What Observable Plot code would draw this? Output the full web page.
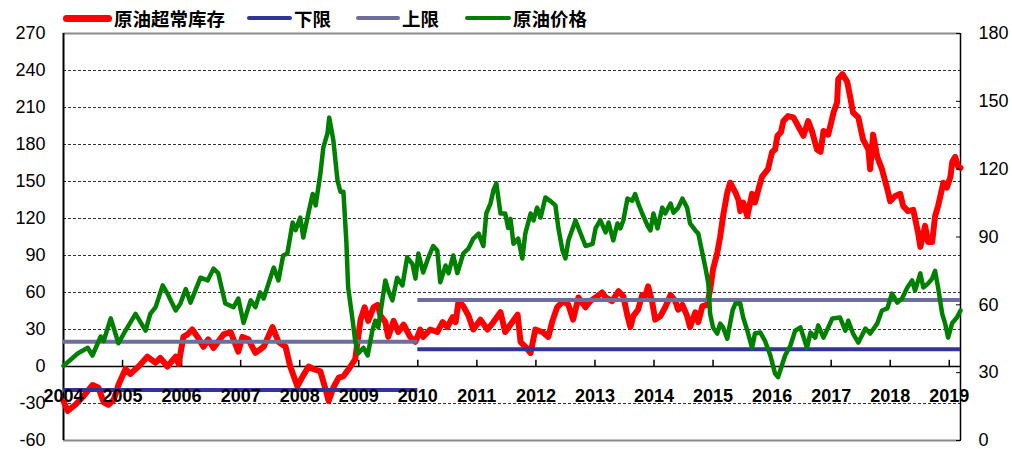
<!DOCTYPE html>
<html><head><meta charset="utf-8">
<script src="https://cdn.jsdelivr.net/npm/d3@7"></script>
<script src="https://cdn.jsdelivr.net/npm/@observablehq/plot@0.6"></script>
<style>
body{margin:0;background:#fff;}
#wrap{position:relative;width:1012px;height:449px;overflow:hidden;}
#legend{position:absolute;left:0;top:0;width:1012px;height:30px;font-family:"Noto Sans CJK SC",sans-serif;font-weight:700;font-size:18.5px;color:#000;z-index:2;}
.item{position:absolute;top:6px;height:24px;display:flex;align-items:center;white-space:nowrap;}
.sw{display:inline-block;border-radius:4px;margin-right:2px;}
</style>
</head><body>
<div id="wrap"><div id="legend"></div><div id="chart"></div></div>
<script>
// ---- data ----
const legendNames = ["原油超常库存", "下限", "上限", "原油价格"];
const yearTicks = [2004,2005,2006,2007,2008,2009,2010,2011,2012,2013,2014,2015,2016,2017,2018,2019];
const leftTicks = [-60,-30,0,30,60,90,120,150,180,210,240,270];
const rightTicks = [0,30,60,90,120,150,180];
const xEnd = 2019.19;

// 原油超常库存 (left axis)
const stockDates = [
 2004.00,2004.07,2004.20,2004.34,2004.49,2004.59,2004.68,2004.76,2004.85,2004.93,
 2005.05,2005.13,2005.27,2005.42,2005.56,2005.64,2005.76,2005.90,2005.95,
 2006.03,2006.10,2006.18,2006.27,2006.37,2006.45,2006.54,2006.71,2006.83,2006.96,
 2007.03,2007.13,2007.25,2007.39,2007.54,2007.64,2007.76,2007.84,2007.96,
 2008.05,2008.15,2008.23,2008.35,2008.44,2008.49,2008.57,2008.66,2008.74,2008.86,2008.94,
 2009.03,2009.10,2009.16,2009.25,2009.32,2009.37,2009.45,2009.50,2009.59,2009.67,2009.76,2009.87,2009.96,
 2010.04,2010.09,2010.21,2010.33,2010.42,2010.50,2010.59,2010.64,2010.69,2010.77,2010.86,2010.94,
 2011.06,2011.18,2011.28,2011.40,2011.48,2011.57,2011.69,2011.74,2011.82,2011.91,2011.99,
 2012.11,2012.21,2012.28,2012.36,2012.46,2012.55,2012.63,2012.72,2012.84,2012.92,
 2013.04,2013.12,2013.18,2013.29,2013.40,2013.48,2013.55,2013.60,2013.65,2013.73,2013.80,2013.85,2013.90,2013.97,
 2014.02,2014.11,2014.19,2014.28,2014.36,2014.41,2014.48,2014.56,2014.61,2014.70,2014.75,2014.82,2014.90,2014.95,
 2015.00,2015.07,2015.12,2015.17,2015.24,2015.29,2015.38,2015.43,2015.46,2015.51,2015.58,2015.66,2015.71,2015.77,2015.83,2015.88,2015.93,
 2016.00,2016.05,2016.09,2016.15,2016.19,2016.27,2016.36,2016.44,2016.53,2016.61,2016.68,2016.76,2016.82,2016.87,2016.95,
 2017.04,2017.10,2017.12,2017.19,2017.27,2017.32,2017.37,2017.46,2017.54,2017.63,2017.66,2017.71,2017.78,2017.86,2017.95,
 2018.00,2018.08,2018.17,2018.22,2018.30,2018.39,2018.47,2018.51,2018.59,2018.64,2018.71,2018.76,2018.81,2018.90,2018.96,
 2019.02,2019.05,2019.10,2019.15,2019.19
];
const stockValues = [
 -28,-36,-31,-24,-15,-17,-29,-31,-27,-15,
 -2,-6,0,8,3,7,0,8,2,
 24,26,30,24,16,22,15,26,28,12,
 24,22,11,16,32,20,16,0,-16,
 -8,0,-2,-4,-19,-28,-17,-9,-8,0,6,
 38,48,37,48,50,41,36,24,37,28,34,24,20,
 30,24,30,28,36,32,40,36,53,49,41,30,
 38,30,36,44,28,34,42,20,16,11,30,
 28,24,37,48,53,50,38,56,48,53,
 57,60,56,53,61,57,41,32,41,46,58,57,65,52,
 38,41,48,58,53,46,50,41,32,44,36,49,50,62,
 79,92,105,122,141,149,141,135,126,133,122,140,133,144,154,157,160,
 174,176,187,190,199,203,202,195,187,199,190,176,174,191,188,
 206,214,233,237,231,219,206,202,184,176,160,188,170,160,144,
 134,138,140,130,126,127,109,97,114,101,101,122,130,149,145,
 154,166,170,162,161
];

// 原油价格 (right axis)
const priceDates = [
 2004.00,2004.24,2004.41,2004.49,2004.63,2004.68,2004.80,2004.93,
 2005.05,2005.22,2005.39,2005.47,2005.56,2005.68,2005.76,2005.90,2005.98,
 2006.07,2006.15,2006.32,2006.44,2006.54,2006.62,2006.74,2006.88,2006.96,
 2007.05,2007.17,2007.25,2007.33,2007.39,2007.56,2007.64,2007.72,2007.79,2007.88,2007.93,
 2008.01,2008.06,2008.15,2008.22,2008.27,2008.35,2008.40,2008.47,2008.50,2008.57,2008.64,2008.69,2008.74,2008.79,2008.82,2008.89,2008.94,2008.99,
 2009.08,2009.15,2009.23,2009.28,2009.33,2009.45,2009.50,2009.57,2009.65,2009.74,2009.82,2009.91,2009.96,
 2010.01,2010.09,2010.18,2010.26,2010.33,2010.38,2010.47,2010.52,2010.60,2010.67,2010.77,2010.86,2010.94,
 2011.03,2011.11,2011.16,2011.23,2011.28,2011.33,2011.40,2011.48,2011.53,2011.57,2011.62,2011.70,2011.77,2011.82,2011.91,2011.96,
 2012.02,2012.08,2012.16,2012.24,2012.33,2012.38,2012.45,2012.50,2012.55,2012.67,2012.75,2012.84,2012.96,
 2013.01,2013.09,2013.18,2013.23,2013.31,2013.38,2013.43,2013.48,2013.55,2013.63,2013.68,2013.73,2013.80,2013.89,2013.94,2013.99,
 2014.06,2014.14,2014.19,2014.28,2014.33,2014.41,2014.48,2014.56,2014.61,2014.70,2014.75,2014.82,2014.87,2014.92,2014.95,
 2015.00,2015.07,2015.12,2015.17,2015.24,2015.33,2015.38,2015.46,2015.51,2015.58,2015.66,2015.71,2015.80,2015.88,2015.97,
 2016.05,2016.10,2016.22,2016.31,2016.39,2016.48,2016.59,2016.65,2016.73,2016.78,2016.87,
 2017.02,2017.15,2017.24,2017.29,2017.37,2017.46,2017.58,2017.66,2017.78,2017.86,2017.95,
 2018.03,2018.12,2018.20,2018.29,2018.37,2018.42,2018.51,2018.56,2018.64,2018.71,2018.76,2018.81,2018.88,2018.93,2018.98,
 2019.05,2019.13,2019.19
];
const priceValues = [
 33,38.5,41,37.6,46,44,54,43,
 48.6,56,48.6,56,59,68.6,65,57.5,60.6,
 67,61,72,70.8,76,74,60.6,59,62.8,
 52,62,59,65.5,62.8,76.5,70.8,81.8,82.7,96.4,93,
 98.6,89.8,100.8,109,104,118,129.6,135.8,142.8,132.7,115,110,110,88,67.7,54.4,44,38.5,
 41,37.6,48.6,53,50,70.8,66.3,62,72,68.6,81,78,71.6,
 82.7,74.3,81,86,84,70,77.4,74,81.8,74,82.7,85,89.3,
 91.5,86,100.4,104.8,110.6,113.7,100.4,100.4,94,98,87,89.3,80.5,91.5,100.4,97.3,
 103,98.6,107.5,106,104,94,84,80.5,88.5,97.3,92,86,87,
 93.8,97.5,92,96.4,88.5,96,93.8,97.3,107,106,109,105,100.4,95,92.9,100.4,
 93.8,103,100.4,104.8,100.8,103,107,103,96,92.9,91.5,82.7,76.5,69.4,56,
 50,47.3,51.7,50,45,57.5,60.6,60.6,54.4,48.6,41,47.3,47.8,44,37.6,
 29.6,28,37.6,42,48.6,50,41,47.8,45.5,50.9,45.5,
 54,54.4,48.6,53,47.3,43.3,49.5,47.3,51.7,57.5,58.4,
 65,61,62.8,67.7,70.8,66.3,73.9,67.7,69.4,71.6,75,67.7,56,51.7,45.5,
 52,54.4,57.5
];

// 下限 / 上限 (left axis), per period
const limitStarts = [2004, 2010];
const limitEnds = [2010, xEnd];
const lowerValues = [-19, 14];
const upperValues = [20, 54];

const colors = ["#ff0000", "#333399", "#6e6e9c", "#008000"];

// ---- build ----
const toLeft = r => -60 + r * 330 / 180;
const fromLeft = v => Math.round((v + 60) * 180 / 330);
const stock = stockDates.map((t, i) => ({t, v: stockValues[i]}));
const price = priceDates.map((t, i) => ({t, v: toLeft(priceValues[i])}));
const limits = limitStarts.map((s, i) => ({start: s, end: limitEnds[i], lower: lowerValues[i], upper: upperValues[i]}));
const gridValues = leftTicks.filter(v => v !== 0 && v !== -60 && v !== 270);

// legend
const legendPos = [63, 247, 356, 465];
const swW = [49, 45, 44, 46];
const swH = [7, 4, 4, 4];
const legend = document.getElementById("legend");
legendNames.forEach((n, i) => {
  const it = document.createElement("div");
  it.className = "item";
  it.style.left = legendPos[i] + "px";
  it.innerHTML = `<span class="sw" style="width:${swW[i]}px;height:${swH[i]}px;background:${colors[i]}"></span><span>${n}</span>`;
  legend.appendChild(it);
});

const chart = Plot.plot({
  width: 1012, height: 449,
  marginLeft: 63, marginRight: 52, marginTop: 33, marginBottom: 9,
  style: {fontFamily: '"Liberation Sans", Arial, sans-serif', fontSize: "18px", color: "#000", background: "#fff", overflow: "visible"},
  x: {type: "linear", domain: [2004, xEnd], axis: null, label: null},
  y: {domain: [-60, 270], axis: null, label: null},
  marks: [
    Plot.ruleY(gridValues, {stroke: "#333", strokeWidth: 1, strokeDasharray: "3,2"}),
    Plot.ruleY([270, -60], {stroke: "#8a8a8a", strokeWidth: 2}),
    Plot.ruleY([0], {stroke: "#000", strokeWidth: 1.5}),
    Plot.ruleX(yearTicks, {x: d => d, y1: 0, y2: 5, stroke: "#000", strokeWidth: 1.5}),
    Plot.ruleX([2004], {stroke: "#000", strokeWidth: 2}),
    Plot.ruleX([xEnd], {stroke: "#000", strokeWidth: 1.5}),
    Plot.line(stock, {x: "t", y: "v", stroke: colors[0], strokeWidth: 6, strokeLinejoin: "round", strokeLinecap: "round"}),
    Plot.ruleY(limits, {y: "lower", x1: "start", x2: "end", stroke: colors[1], strokeWidth: 4}),
    Plot.ruleY(limits, {y: "upper", x1: "start", x2: "end", stroke: colors[2], strokeWidth: 4}),
    Plot.line(price, {x: "t", y: "v", stroke: colors[3], strokeWidth: 4.5, strokeLinejoin: "round", strokeLinecap: "round"}),
    Plot.axisY(leftTicks, {anchor: "left", tickSize: 0, tickPadding: 18, fontSize: 18, tickFormat: d => String(d)}),
    Plot.axisY(rightTicks.map(toLeft), {anchor: "right", tickSize: -5, tickPadding: 23, fontSize: 18, tickFormat: v => String(fromLeft(v))}),
    Plot.text(yearTicks, {x: d => d, y: 0, dy: 30, text: d => String(d), fontWeight: "bold", fontSize: 18, fill: "#000"})
  ]
});
document.getElementById("chart").appendChild(chart);
</script>
</body></html>
